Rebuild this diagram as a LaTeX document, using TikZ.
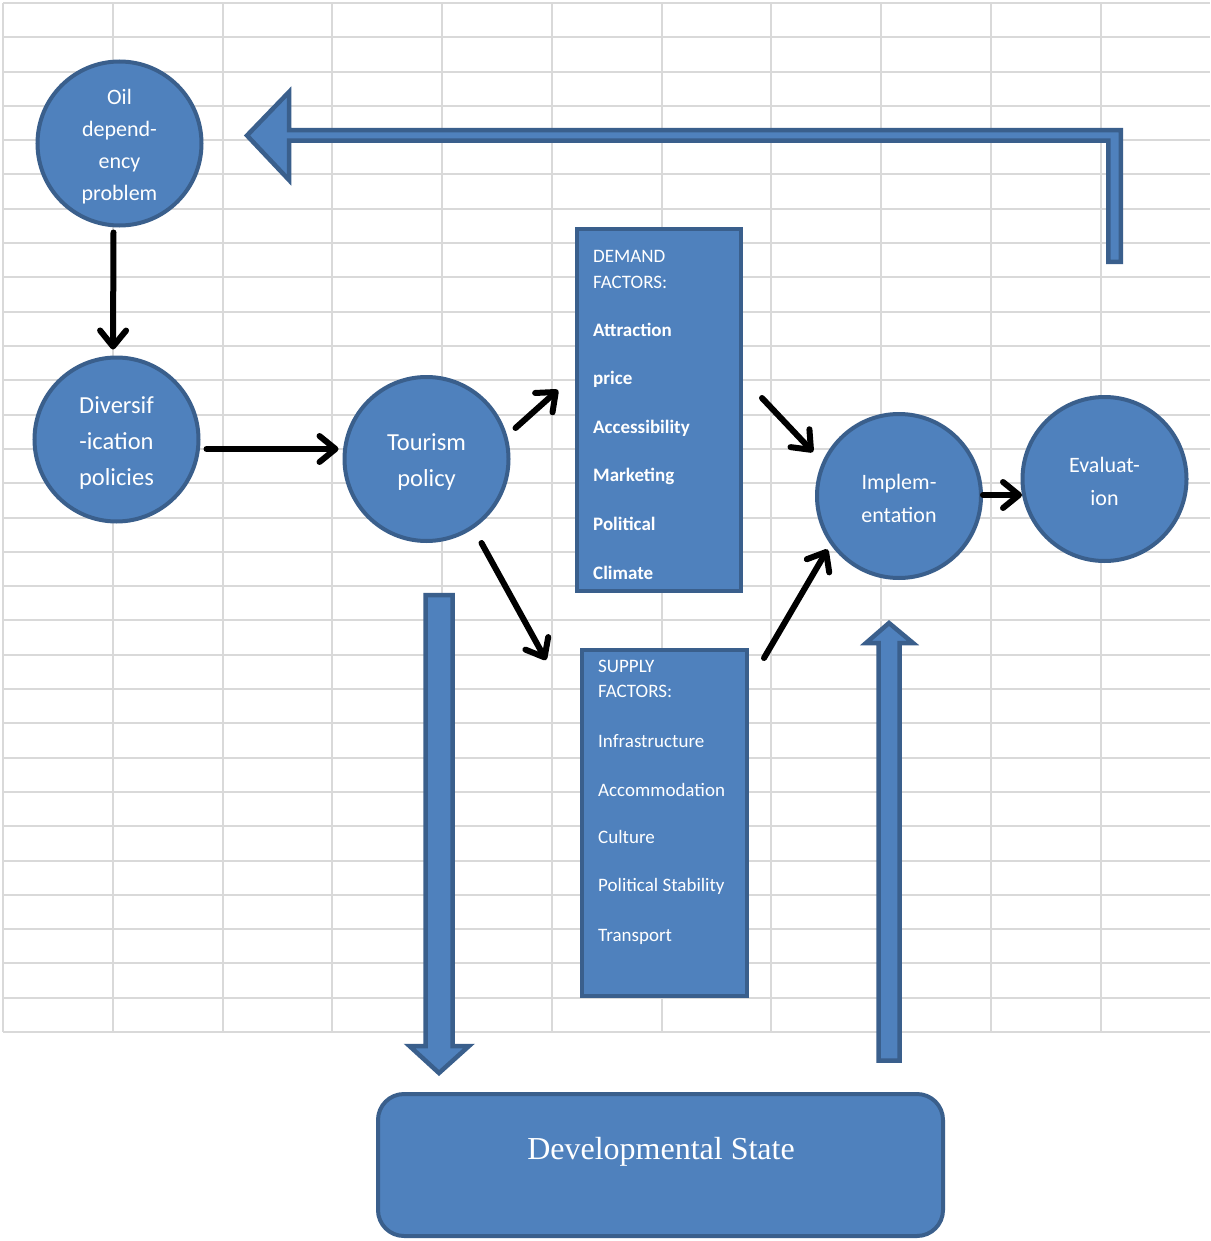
\documentclass[tikz,border=0pt]{standalone}
\usepackage{fontspec}
\setmainfont{Carlito}
\newfontfamily\devserif{Liberation Serif}
\usetikzlibrary{arrows.meta}
\definecolor{fillblue}{HTML}{4F81BD}
\definecolor{edgeblue}{HTML}{3A5F8C}
\definecolor{gridgray}{HTML}{D9D9D9}
\newcommand{\topgap}[1]{\rule{0pt}{#1}}
\begin{document}
\begin{tikzpicture}[x=1pt,y=-1pt,
  bubble/.style={circle, fill=fillblue, draw=edgeblue, line width=4pt, minimum size=164pt, inner sep=0pt, text=white, align=center},
  factorbox/.style={rectangle, fill=fillblue, draw=edgeblue, line width=4pt, inner sep=0pt},
  factortext/.style={anchor=base west, inner sep=0pt, text=white, font=\fontsize{19}{22}\selectfont},
  boldtext/.style={factortext, font=\fontsize{19}{22}\selectfont\bfseries},
  flow/.style={line width=6pt, line cap=round, -{Straight Barb[length=16pt,width=26pt,round]}},
  blockarrow/.style={fill=fillblue, draw=edgeblue, line width=4.5pt, line join=miter},
  gridline/.style={draw=gridgray, line width=2pt}]
\useasboundingbox (0,0) rectangle (1210,1241);
\fill[white] (0,0) rectangle (1210,1241);
% grid
\foreach \k in {0,...,30} \draw[gridline] (3,{3+34.3*\k}) -- (1210,{3+34.3*\k});
\foreach \k in {0,...,10} \draw[gridline] ({3+109.75*\k},3) -- ({3+109.75*\k},1032);

% circles
\node[bubble, font=\fontsize{22}{32}\selectfont] (oil) at (119.5,143.5) {\topgap{21pt}Oil\\depend-\\ency\\problem};
\node[bubble, font=\fontsize{24.5}{36}\selectfont] (div) at (116.5,439.5) {\topgap{23.5pt}Diversif\\-ication\\policies};
\node[bubble, font=\fontsize{24.5}{36}\selectfont] (tour) at (426.5,459) {\topgap{23.5pt}Tourism\\policy};
\node[bubble, font=\fontsize{22}{33}\selectfont] (imp) at (899,496) {\topgap{20pt}Implem-\\entation};
\node[bubble, font=\fontsize{22}{33}\selectfont] (eval) at (1104.5,479) {\topgap{20pt}Evaluat-\\ion};

% factor boxes
\node[factorbox, minimum width=164pt, minimum height=362pt] (dem) at (659,410) {};
\node[factortext] (d1) at (593,262) {DEMAND};
\node[factortext] (d2) at (593,288) {FACTORS:};
\node[boldtext] (d3) at (593,336) {Attraction};
\node[boldtext] (d4) at (593,384) {price};
\node[boldtext] (d5) at (593,433) {Accessibility};
\node[boldtext] (d6) at (593,481.5) {Marketing};
\node[boldtext] (d7) at (593,530) {Political};
\node[boldtext] (d8) at (593,579) {Climate};

\node[factorbox, minimum width=165pt, minimum height=346pt] (sup) at (664.5,823) {};
\node[factortext] (s1) at (598,672) {SUPPLY};
\node[factortext] (s2) at (598,697) {FACTORS:};
\node[factortext] (s3) at (598,747) {Infrastructure};
\node[factortext] (s4) at (598,796) {Accommodation};
\node[factortext] (s5) at (598,843) {Culture};
\node[factortext] (s6) at (598,891) {Political Stability};
\node[factortext] (s7) at (598,941) {Transport};

% developmental state
\node[factorbox, rounded corners=26pt, minimum width=565pt, minimum height=142pt] (dev) at (660.5,1165) {};
\node[anchor=base, inner sep=0pt, text=white, font=\devserif\fontsize{32}{36}\selectfont] (devlabel) at (661,1159) {Developmental State};

% block arrows
\draw[blockarrow] (247,135.5) -- (289,92) -- (289,130.25) -- (1120.75,130.25) -- (1120.75,261.75)
  -- (1108.25,261.75) -- (1108.25,140.75) -- (289,140.75) -- (289,180) -- cycle;
\draw[blockarrow] (425.5,595) -- (452.5,595) -- (452.5,1046) -- (469,1046) -- (439,1073)
  -- (409.5,1046) -- (425.5,1046) -- cycle;
\draw[blockarrow] (878.5,1060.5) -- (899.5,1060.5) -- (899.5,643) -- (913,643) -- (889,623)
  -- (866,643) -- (878.5,643) -- cycle;

% flow arrows
\draw[flow] ([xshift=-6pt,yshift=-5pt]oil.south) -- ([xshift=-3.5pt,yshift=6pt]div.north);
\draw[flow] ([xshift=6pt,yshift=-9.5pt]div.east) -- ([xshift=-4pt,yshift=10pt]tour.west);
\draw[flow] ([xshift=5pt,yshift=31pt]tour.east) -- ([xshift=-17pt,yshift=20pt]dem.west);
\draw[flow] ([xshift=55pt]tour.south) -- ([xshift=-34pt,yshift=-12pt]sup.north west);
\draw[flow] ([xshift=19pt,yshift=12pt]dem.east) -- ([xshift=-2pt,yshift=44pt]imp.west);
\draw[flow] ([xshift=15pt,yshift=-10pt]sup.north east) -- ([xshift=-12pt,yshift=6pt]imp.south west);
\draw[flow] ([xshift=0pt,yshift=1pt]imp.east) -- ([xshift=1.5pt,yshift=-16pt]eval.west);
\end{tikzpicture}
\end{document}
